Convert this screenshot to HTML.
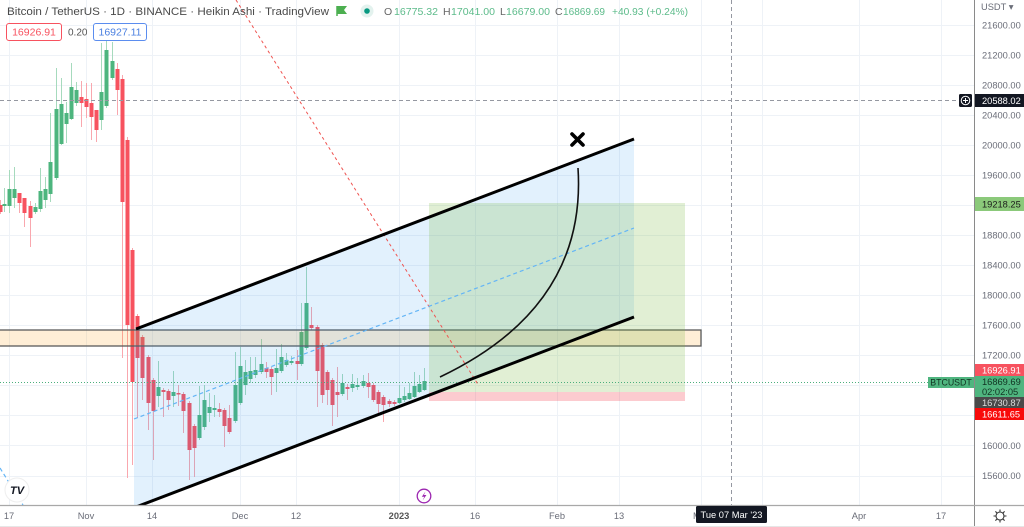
<!DOCTYPE html>
<html><head><meta charset="utf-8"><style>
html,body{margin:0;padding:0;background:#fff;}
svg{display:block;font-family:"Liberation Sans",Arial,sans-serif;}
</style></head><body>
<svg width="1024" height="527" viewBox="0 0 1024 527" xmlns="http://www.w3.org/2000/svg">
<rect x="0" y="0" width="1024" height="527" fill="#fff"/>
<defs><clipPath id="ca"><rect x="0" y="0" width="974" height="505"/></clipPath></defs>
<g id="grid" stroke="#eef2f7" stroke-width="1">
<line x1="0" x2="974" y1="25.5" y2="25.5"/><line x1="0" x2="974" y1="55.5" y2="55.5"/><line x1="0" x2="974" y1="85.5" y2="85.5"/><line x1="0" x2="974" y1="115.5" y2="115.5"/><line x1="0" x2="974" y1="145.5" y2="145.5"/><line x1="0" x2="974" y1="175.5" y2="175.5"/><line x1="0" x2="974" y1="205.5" y2="205.5"/><line x1="0" x2="974" y1="235.5" y2="235.5"/><line x1="0" x2="974" y1="265.5" y2="265.5"/><line x1="0" x2="974" y1="295.5" y2="295.5"/><line x1="0" x2="974" y1="325.5" y2="325.5"/><line x1="0" x2="974" y1="355.5" y2="355.5"/><line x1="0" x2="974" y1="385.5" y2="385.5"/><line x1="0" x2="974" y1="415.5" y2="415.5"/><line x1="0" x2="974" y1="445.5" y2="445.5"/><line x1="0" x2="974" y1="476.5" y2="476.5"/>
<line y1="0" y2="505" x1="9.5" x2="9.5"/><line y1="0" y2="505" x1="86.5" x2="86.5"/><line y1="0" y2="505" x1="152.5" x2="152.5"/><line y1="0" y2="505" x1="240.5" x2="240.5"/><line y1="0" y2="505" x1="296.5" x2="296.5"/><line y1="0" y2="505" x1="399.5" x2="399.5"/><line y1="0" y2="505" x1="475.5" x2="475.5"/><line y1="0" y2="505" x1="557.5" x2="557.5"/><line y1="0" y2="505" x1="619.5" x2="619.5"/><line y1="0" y2="505" x1="701.5" x2="701.5"/><line y1="0" y2="505" x1="762.5" x2="762.5"/><line y1="0" y2="505" x1="859.5" x2="859.5"/><line y1="0" y2="505" x1="941.5" x2="941.5"/>
</g>
<g clip-path="url(#ca)">
<path fill="none" stroke="#a6dabd" stroke-width="1" d="M4.5,188V212 M9.5,170V213 M14.5,167V208 M35.5,203V214 M40.5,168V212 M45.5,177V208 M50.5,113V202 M56.5,68V180 M61.5,78V145 M66.5,102V143 M71.5,63V120 M76.5,82V106 M101.5,43V130 M106.5,39V108 M112.5,42V80 M158.5,361V407 M173.5,371V407 M199.5,386V440 M204.5,385V430 M209.5,393V422 M214.5,395V417 M235.5,352V423 M240.5,347V405 M245.5,360V395 M250.5,357V383 M255.5,357V378 M261.5,339V374 M276.5,349V392 M281.5,344V373 M286.5,353V367 M291.5,356V365 M301.5,303V366 M306.5,267V350 M342.5,374V396 M352.5,374V392 M357.5,378V390 M363.5,375V388 M399.5,385V404 M404.5,387V402 M409.5,383V400 M414.5,372V398 M419.5,375V393 M424.5,368V391"/>
<path fill="none" stroke="#f9a7ae" stroke-width="1" d="M0.5,200V214 M19.5,193V213 M24.5,198V227 M30.5,201V247 M81.5,81V127 M86.5,83V118 M91.5,83V140 M96.5,110V142 M117.5,63V115 M122.5,75V358 M127.5,137V478 M132.5,248V465 M137.5,314V418 M142.5,335V400 M148.5,355V430 M153.5,378V460 M163.5,388V417 M168.5,389V410 M178.5,385V406 M183.5,392V433 M189.5,401V480 M194.5,424V477 M219.5,403V417 M224.5,408V447 M229.5,405V434 M266.5,362V378 M271.5,367V395 M297.5,350V380 M311.5,307V330 M317.5,325V407 M322.5,343V403 M327.5,370V405 M332.5,378V426 M337.5,367V417 M347.5,384V400 M368.5,373V398 M373.5,383V402 M378.5,390V415 M383.5,395V422 M389.5,399V407 M394.5,400V406"/>
<path fill="#4db57e" d="M2.5,204h4V206h-4z M7.5,189h4V206h-4z M12.5,189h4V198h-4z M33.5,207h4V212h-4z M38.5,191h4V209h-4z M43.5,189h4V200h-4z M48.5,162h4V194h-4z M54.5,109h4V178h-4z M59.5,104h4V144h-4z M64.5,113h4V124h-4z M69.5,87h4V119h-4z M74.5,90h4V103h-4z M99.5,92h4V120h-4z M104.5,50h4V106h-4z M110.5,61h4V78h-4z M156.5,387h4V396h-4z M171.5,392h4V396h-4z M197.5,415h4V438h-4z M202.5,400h4V427h-4z M207.5,407h4V413h-4z M212.5,408h4V410h-4z M233.5,385h4V421h-4z M238.5,366h4V403h-4z M243.5,372h4V385h-4z M248.5,371h4V379h-4z M253.5,370h4V375h-4z M259.5,364h4V372h-4z M274.5,368h4V373h-4z M279.5,357h4V371h-4z M284.5,360h4V365h-4z M289.5,361h4V363h-4z M299.5,332h4V364h-4z M304.5,303h4V348h-4z M340.5,383h4V394h-4z M350.5,384h4V388h-4z M355.5,385h4V387h-4z M361.5,381h4V386h-4z M397.5,398h4V403h-4z M402.5,396h4V400h-4z M407.5,393h4V399h-4z M412.5,386h4V397h-4z M417.5,384h4V392h-4z M422.5,381h4V390h-4z"/>
<path fill="#f7525f" d="M-1.5,205h4V212h-4z M17.5,193h4V203h-4z M22.5,198h4V213h-4z M28.5,206h4V218h-4z M79.5,97h4V103h-4z M84.5,99h4V107h-4z M89.5,103h4V117h-4z M94.5,110h4V130h-4z M115.5,69h4V90h-4z M120.5,79h4V202h-4z M125.5,140h4V325h-4z M130.5,250h4V382h-4z M135.5,316h4V358h-4z M140.5,337h4V378h-4z M146.5,357h4V403h-4z M151.5,380h4V411h-4z M161.5,390h4V392h-4z M166.5,391h4V400h-4z M176.5,393h4V394.5h-4z M181.5,394h4V411h-4z M187.5,403h4V450h-4z M192.5,426h4V448h-4z M217.5,409h4V412h-4z M222.5,410h4V426h-4z M227.5,418h4V432h-4z M264.5,368h4V372h-4z M269.5,369h4V377h-4z M295.5,361h4V364h-4z M309.5,325h4V328h-4z M315.5,327h4V371h-4z M320.5,345h4V395h-4z M325.5,372h4V390h-4z M330.5,380h4V405h-4z M335.5,392h4V395h-4z M345.5,387h4V389h-4z M366.5,383h4V387h-4z M371.5,385h4V400h-4z M376.5,392h4V404h-4z M381.5,397h4V405h-4z M387.5,401h4V404h-4z M392.5,402h4V404h-4z"/>
</g>
<g clip-path="url(#ca)">
<rect x="-2" y="330" width="703" height="16" fill="rgba(255,152,0,0.16)" stroke="#5a5a5a" stroke-width="1.3"/>
<polygon points="134,329.5 634,139 634,317 134,507.5" fill="rgba(33,150,243,0.13)"/>
<rect x="429" y="203" width="256" height="189" fill="rgba(120,180,60,0.22)"/>
<rect x="429" y="392" width="256" height="9" fill="rgba(242,54,69,0.26)"/>
<line x1="0" y1="382.5" x2="928" y2="382.5" stroke="#4caf7d" stroke-width="1" stroke-dasharray="1,2"/>
<line x1="0" y1="100.5" x2="959" y2="100.5" stroke="#9598a1" stroke-width="1" stroke-dasharray="4,3"/>
<line x1="731.5" y1="0" x2="731.5" y2="505" stroke="#9598a1" stroke-width="1" stroke-dasharray="4,3"/>
<line x1="236" y1="0" x2="479" y2="386" stroke="#ef5350" stroke-width="1" stroke-dasharray="3,3"/>
<line x1="134" y1="419" x2="634" y2="228" stroke="#64b5f6" stroke-width="1.2" stroke-dasharray="4,3"/>
<line x1="0" y1="468" x2="23" y2="505" stroke="#64b5f6" stroke-width="1.2" stroke-dasharray="4,3"/>
<line x1="136" y1="329" x2="634" y2="139" stroke="#000" stroke-width="3"/>
<line x1="136" y1="507" x2="634" y2="317" stroke="#000" stroke-width="3"/>
<path d="M440,377 Q587,307 578,168" fill="none" stroke="#111" stroke-width="1.6"/>
<path d="M572,134 L583,145 M583,134 L572,145" stroke="#000" stroke-width="3.6" stroke-linecap="round"/>
</g>
<text x="7" y="15" font-size="11" fill="#4a4a4a" textLength="322" lengthAdjust="spacingAndGlyphs">Bitcoin / TetherUS · 1D · BINANCE · Heikin Ashi · TradingView</text>
<path d="M337,6 L337,16" stroke="#4caf50" stroke-width="1.5"/>
<path d="M337,6 L347,6 L344,10 L347,14 L337,14 Z" fill="#4caf50"/>
<circle cx="367" cy="11" r="6.5" fill="#e3f2ee"/>
<circle cx="367" cy="11" r="2.8" fill="#089981"/>
<g font-size="10.5">
<text x="384" y="15" fill="#666">O</text><text x="394" y="15" fill="#5cbb8a" textLength="44" lengthAdjust="spacingAndGlyphs">16775.32</text>
<text x="443" y="15" fill="#666">H</text><text x="451" y="15" fill="#5cbb8a" textLength="44" lengthAdjust="spacingAndGlyphs">17041.00</text>
<text x="500" y="15" fill="#666">L</text><text x="506" y="15" fill="#5cbb8a" textLength="44" lengthAdjust="spacingAndGlyphs">16679.00</text>
<text x="555" y="15" fill="#666">C</text><text x="563" y="15" fill="#5cbb8a" textLength="42" lengthAdjust="spacingAndGlyphs">16869.69</text>
<text x="612" y="15" fill="#5cbb8a" textLength="76" lengthAdjust="spacingAndGlyphs">+40.93 (+0.24%)</text>
</g>
<rect x="6.5" y="23.5" width="55" height="17" rx="2.5" fill="#fff" stroke="#f7525f" stroke-width="1"/>
<text x="34" y="35.5" font-size="10.5" fill="#f7525f" text-anchor="middle">16926.91</text>
<text x="68" y="35.5" font-size="10" fill="#555">0.20</text>
<rect x="93.5" y="23.5" width="53" height="17" rx="2.5" fill="#fff" stroke="#5b8def" stroke-width="1"/>
<text x="120" y="35.5" font-size="10.5" fill="#4a7fe0" text-anchor="middle">16927.11</text>
<rect x="974" y="0" width="50" height="527" fill="#fff"/>
<line x1="974.5" y1="0" x2="974.5" y2="527" stroke="#8a8a8a" stroke-width="1"/>
<g font-size="9.3" fill="#6a6d78">
<text x="981" y="10">USDT ▾</text>
<text x="982" y="28.5">21600.00</text><text x="982" y="58.5">21200.00</text><text x="982" y="88.5">20800.00</text><text x="982" y="118.5">20400.00</text><text x="982" y="148.5">20000.00</text><text x="982" y="178.5">19600.00</text><text x="982" y="238.5">18800.00</text><text x="982" y="268.5">18400.00</text><text x="982" y="298.5">18000.00</text><text x="982" y="328.5">17600.00</text><text x="982" y="358.5">17200.00</text><text x="982" y="449">16000.00</text><text x="982" y="479">15600.00</text>
</g>
<rect x="959" y="94" width="13" height="13" rx="1.5" fill="#131722"/>
<circle cx="965.5" cy="100.5" r="4.3" fill="none" stroke="#fff" stroke-width="1"/>
<path d="M963,100.5 H968 M965.5,98 V103" stroke="#fff" stroke-width="1"/>
<rect x="975" y="94" width="49" height="13" fill="#131722"/>
<text x="982" y="104" font-size="9.3" fill="#fff">20588.02</text>
<rect x="975" y="197" width="49" height="14" fill="#8bc97a"/>
<text x="982" y="207.5" font-size="9.3" fill="#1b1b1b">19218.25</text>
<rect x="975" y="364" width="49" height="12" fill="#f7525f"/>
<text x="982" y="373.5" font-size="9.3" fill="#fff">16926.91</text>
<rect x="975" y="376" width="49" height="21" fill="#4fb57f"/>
<text x="982" y="385" font-size="9.3" fill="#132">16869.69</text>
<text x="982" y="395" font-size="9.3" fill="#132">02:02:05</text>
<rect x="975" y="397" width="49" height="11" fill="#4a4a4a"/>
<text x="982" y="406" font-size="9.3" fill="#ddd">16730.87</text>
<rect x="975" y="408" width="49" height="12" fill="#f80a0a"/>
<text x="982" y="417.5" font-size="9.3" fill="#fff">16611.65</text>
<rect x="928" y="377" width="46" height="11" fill="#4fb57f"/>
<text x="951" y="385.5" font-size="8.8" fill="#132" text-anchor="middle">BTCUSDT</text>
<rect x="0" y="506" width="974" height="21" fill="#fff"/>
<line x1="0" y1="505.5" x2="1024" y2="505.5" stroke="#a8a8a8" stroke-width="1.2"/>
<line x1="0" y1="526.5" x2="1024" y2="526.5" stroke="#e6e6e6" stroke-width="1"/>
<g font-size="9.3" fill="#6a6d78" text-anchor="middle">
<text x="9" y="519">17</text><text x="86" y="519">Nov</text><text x="152" y="519">14</text><text x="240" y="519">Dec</text><text x="296" y="519">12</text><text x="399" y="519" font-weight="bold" fill="#555">2023</text><text x="475" y="519">16</text><text x="557" y="519">Feb</text><text x="619" y="519">13</text><text x="701" y="519">Mar</text><text x="859" y="519">Apr</text><text x="941" y="519">17</text>
</g>
<rect x="696" y="506" width="71" height="17" rx="1.5" fill="#131722"/>
<text x="731.5" y="518" font-size="9.3" fill="#fff" text-anchor="middle">Tue 07 Mar '23</text>
<g transform="translate(1000,516)" stroke="#333" stroke-width="1.1" fill="none">
<circle r="4"/>
<path d="M0,-6.5V-4.5M0,4.5V6.5M-6.5,0H-4.5M4.5,0H6.5M-4.6,-4.6L-3.2,-3.2M3.2,3.2L4.6,4.6M-4.6,4.6L-3.2,3.2M3.2,-3.2L4.6,-4.6"/>
</g>
<circle cx="17" cy="490" r="12" fill="#fff" stroke="#eee" stroke-width="1"/>
<text x="17" y="494" font-size="11" font-weight="bold" fill="#131722" text-anchor="middle" font-style="italic">TV</text>
<circle cx="424" cy="496" r="6.8" fill="#fff" stroke="#9c27b0" stroke-width="1.3"/>
<path d="M425.5,491.5 L421.8,496.8 L424.3,496.8 L422.6,500.5 L426.4,495 L423.9,495 Z" fill="#9c27b0"/>
</svg>
</body></html>
